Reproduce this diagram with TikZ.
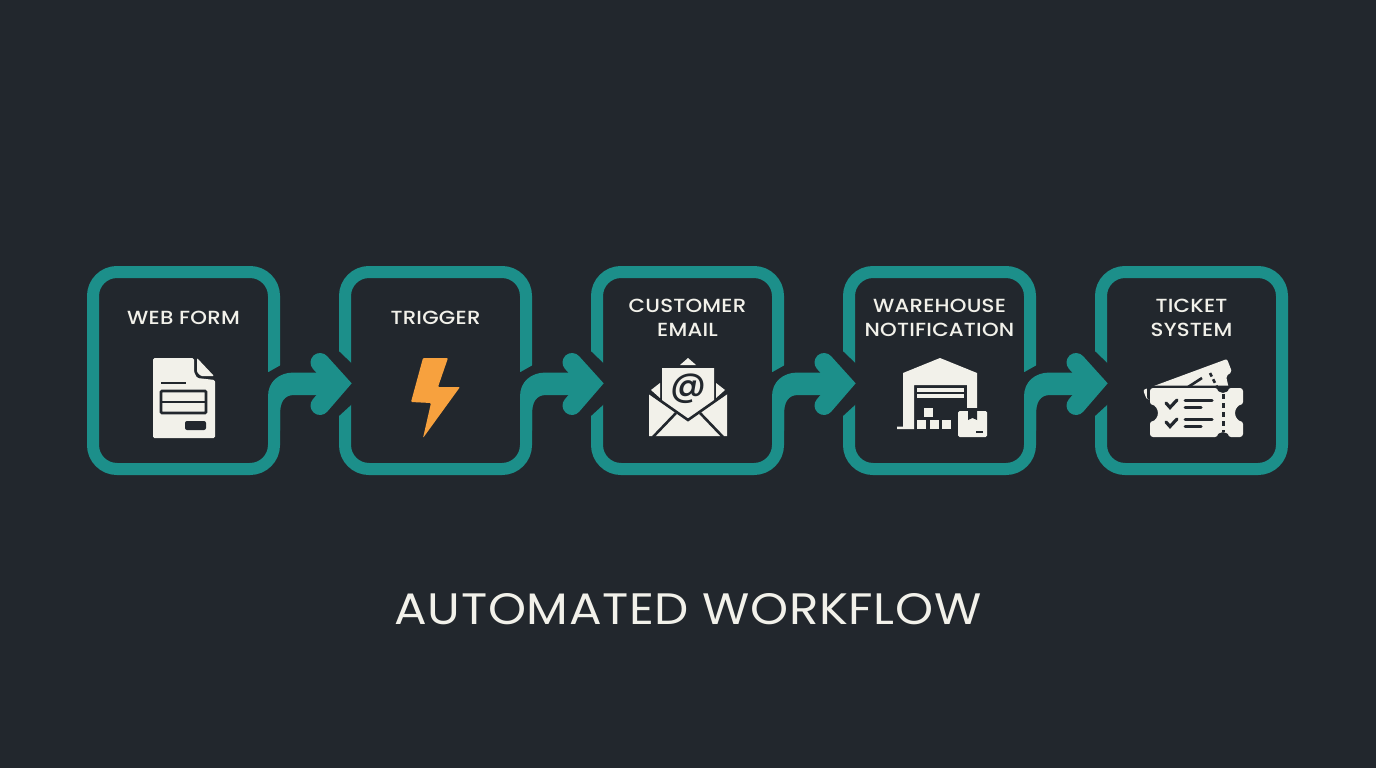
\documentclass[tikz,border=0pt]{standalone}
\usepackage{fontspec}
\setmainfont[FakeStretch=1.1,LetterSpace=1.5]{Poppins}
\newfontfamily\labelfont[UprightFont={* Medium},FakeStretch=1.12,LetterSpace=1.2]{Poppins}
\newfontfamily\atfont[UprightFont={* Medium}]{Poppins}
\usetikzlibrary{calc}
\definecolor{bgdark}{HTML}{22272D}
\definecolor{tealline}{HTML}{1C8F8A}
\definecolor{cream}{HTML}{F2F1EA}
\definecolor{boltorange}{HTML}{F7A13E}
\tikzset{
  stepbox/.style={draw=tealline, line width=12pt, rounded corners=24pt, minimum width=181pt, minimum height=197pt, outer sep=0pt},
  steplabel/.style={text=cream, font=\labelfont\fontsize{19}{24}\selectfont, align=center, inner sep=0pt},
  darkline/.style={draw=bgdark, line width=2.6pt},
  darkfill/.style={fill=bgdark},
  iconfill/.style={fill=cream, rounded corners=1.5pt}
}
\begin{document}
\begin{tikzpicture}[x=1pt,y=-1pt]
\useasboundingbox[fill=bgdark] (0,0) rectangle (1376,768);
% boxes
\node [stepbox] (form) at (183.5,370.5) {};
\node [stepbox] (trigger) at (435.5,370.5) {};
\node [stepbox] (email) at (687.5,370.5) {};
\node [stepbox] (notice) at (939.5,370.5) {};
\node [stepbox] (ticket) at (1191.5,370.5) {};
% arrows
\foreach \a/\b in {form/trigger,trigger/email,email/notice,notice/ticket}{
\fill [bgdark] ($(\a.east)+(-8,3)$) -- ($(\a.east)+(8,-6)$) -- ($(\a.east)+(8,32)$) -- ($(\a.east)+(-8,32)$) -- cycle;
\fill [bgdark] ($(\b.west)+(-11,-24)$) -- ($(\b.west)+(13,-1)$) -- ($(\b.west)+(13,28)$) -- ($(\b.west)+(-11,50)$) -- cycle;
\fill [tealline] ($(\a.east)+(-6,60)$) -- ($(\a.east)+(-6,26)$) .. controls ($(\a.east)+(-6,11)$) and ($(\a.east)+(5,2)$) .. ($(\a.east)+(20,2)$) -- ($(\b.west)+(-10,2)$) -- ($(\b.west)+(-10,24.5)$) -- ($(\a.east)+(20,24.5)$) .. controls ($(\a.east)+(10,24.5)$) and ($(\a.east)+(6,32)$) .. ($(\a.east)+(6,44)$) -- ($(\a.east)+(6,60)$) -- cycle;
\draw [tealline, line width=19pt, line cap=round, miter limit=10] ($(\b.west)+(-25,-8)$) -- ($(\b.west)+(-6,13)$) -- ($(\b.west)+(-25,35)$);
}
% labels
\node [steplabel] (formtext) at (183.5,318) {WEB FORM};
\node [steplabel] (triggertext) at (435.5,318) {TRIGGER};
\node [steplabel] (emailtext) at (687.5,318) {CUSTOMER\\EMAIL};
\node [steplabel] (noticetext) at (939.5,318) {WAREHOUSE\\NOTIFICATION};
\node [steplabel] (tickettext) at (1191.5,318) {TICKET\\SYSTEM};
\node [text=cream, font=\fontsize{44}{50}\selectfont, inner sep=0pt] (title) at (688,609) {AUTOMATED WORKFLOW};
% web form icon
\fill [iconfill] (153,358) -- (194,358) -- (194,372) -- (197,378) -- (215,380) -- (215,438) -- (153,438) -- cycle;
\fill [cream, rounded corners=1pt] (197,358) -- (214,376) -- (201,376) -- (197,372) -- cycle;
\draw [darkline] (161,383) -- (186,383);
\draw [darkline, rounded corners=1pt] (161,391) rectangle (206,413);
\draw [darkline] (161,402) -- (206,402);
\fill [darkfill, rounded corners=2pt] (185,421) rectangle (206,430);
% bolt icon
\fill [boltorange, rounded corners=1pt] (423,358) -- (448,358) -- (438,387) -- (460,387) -- (423,438) -- (431,403) -- (411,402) -- cycle;
% envelope icon
\fill [cream] (680,365) -- (688,358) -- (696,365) -- cycle;
\fill [cream] (651,390) -- (660,383) -- (660,398) -- cycle;
\fill [cream] (725,390) -- (716,383) -- (716,398) -- cycle;
\fill [cream] (662,368) -- (714,368) -- (714,401) -- (688,419) -- (662,401) -- cycle;
\node [text=bgdark, font=\atfont\fontsize{35}{35}\selectfont, inner sep=0pt] (emailat) at (688,389) {@};
\fill [cream] (649,394) -- (688,421) -- (727,394) -- (727,436) -- (649,436) -- cycle;
\draw [darkline] (648,392) -- (688,420) -- (728,392);
\draw [darkline] (653,437) -- (676,413);
\draw [darkline] (723,437) -- (700,413);
% warehouse icon
\fill [cream] (903,373) -- (940,358) -- (977,373) -- (977,412) -- (967,412) -- (967,385) -- (914,385) -- (914,429) -- (897,429) -- (897,426.5) -- (903,426.5) -- cycle;
\foreach \y in {388,394}{
\fill [cream] (917,\y) rectangle (964,\y+4);
}
\fill [cream] (924,408) rectangle (933,417);
\foreach \x in {917,930,942}{
\fill [cream] (\x,420) rectangle (\x+9,429);
}
\fill [bgdark] (955,408) rectangle (990,440);
\fill [iconfill] (958,411) rectangle (987,437);
\fill [bgdark] (968,411) -- (977,411) -- (977,420) -- (972.5,418) -- (968,420) -- cycle;
\fill [bgdark] (976,431) rectangle (983,433);
% ticket icon
\fill [cream, rounded corners=2pt] (1143,390) -- (1227,359) -- (1232,372) -- (1226,376) -- (1229,389) -- (1147,400) -- cycle;
\draw [darkline] (1185,389) -- (1202,378);
\draw [darkline, dash pattern=on 4pt off 3pt] (1210,373) -- (1217,387);
\fill [bgdark, rounded corners=3pt] (1147,385.5) rectangle (1246,400);
\fill [cream, rounded corners=3pt] (1150,388) -- (1218,388) arc[start angle=180, end angle=360, radius=5pt] -- (1243,388) -- (1243,405) arc[start angle=90, end angle=270, radius=8pt] -- (1243,437) -- (1228,437) arc[start angle=0, end angle=180, radius=5pt] -- (1150,437) -- (1150,421) arc[start angle=-90, end angle=90, radius=8pt] -- cycle;
\draw [darkline, line width=3pt, dash pattern=on 5pt off 4pt] (1223,394) -- (1223,432);
\foreach \y in {0,19}{
\draw [darkline, line width=3.2pt, line cap=round] (1166,403+\y) -- (1170,407.5+\y) -- (1177,400+\y);
\draw [darkline, line width=3pt, line cap=round] (1185,400+\y) -- (1212,400+\y);
\draw [darkline, line width=3pt, line cap=round] (1185,407+\y) -- (1201,407+\y);
}
\end{tikzpicture}
\end{document}
